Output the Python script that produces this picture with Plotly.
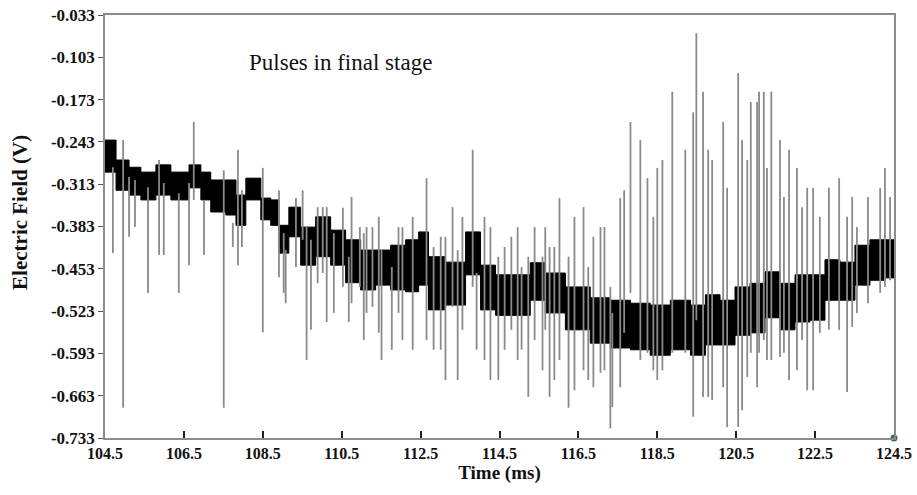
import plotly.graph_objects as go

# ---- data ----
# black noise band (step segments): segment boundaries (ms), upper and lower edge (V)
band_t = [104.50, 104.78, 105.11, 105.41, 105.79, 106.17, 106.63, 106.93, 107.18, 107.56,
          107.82, 108.07, 108.45, 108.70, 108.91, 109.16, 109.46, 109.84, 110.22, 110.60,
          110.98, 111.36, 111.74, 112.12, 112.45, 112.70, 113.13, 113.64, 114.02, 114.40,
          115.28, 115.66, 116.17, 116.80, 117.31, 117.82, 118.32, 118.83, 119.34, 119.72,
          120.09, 120.47, 120.85, 121.23, 121.61, 121.99, 122.37, 122.75, 123.13, 123.51,
          123.89, 124.27, 124.50]
band_hi = [-0.240, -0.273, -0.285, -0.293, -0.281, -0.293, -0.281, -0.293, -0.306, -0.306,
           -0.331, -0.303, -0.336, -0.339, -0.381, -0.351, -0.384, -0.367, -0.389, -0.405,
           -0.422, -0.422, -0.414, -0.405, -0.392, -0.433, -0.442, -0.392, -0.447, -0.463,
           -0.443, -0.460, -0.483, -0.501, -0.505, -0.510, -0.513, -0.505, -0.513, -0.496,
           -0.505, -0.483, -0.477, -0.458, -0.477, -0.463, -0.463, -0.438, -0.442, -0.414,
           -0.405, -0.405]
band_lo = [-0.293, -0.323, -0.331, -0.339, -0.331, -0.339, -0.319, -0.339, -0.359, -0.364,
           -0.381, -0.339, -0.372, -0.381, -0.427, -0.400, -0.447, -0.433, -0.447, -0.476,
           -0.488, -0.480, -0.488, -0.491, -0.480, -0.521, -0.513, -0.463, -0.521, -0.530,
           -0.505, -0.526, -0.554, -0.576, -0.584, -0.587, -0.596, -0.587, -0.596, -0.579,
           -0.579, -0.563, -0.559, -0.534, -0.554, -0.541, -0.538, -0.505, -0.505, -0.480,
           -0.472, -0.468]

# grey pulses: time (ms), top and bottom end of each stroke (V)
pulse_t = [104.70, 104.96, 105.11, 105.26, 105.59, 105.87, 105.99, 106.37, 106.63, 106.75,
           107.01, 107.51, 107.74, 107.87, 107.97, 108.50, 108.91, 109.03, 109.08, 109.34,
           109.51, 109.61, 109.72, 109.89, 110.02, 110.12, 110.30, 110.53, 110.68, 110.75,
           110.96, 111.06, 111.13, 111.28, 111.44, 111.51, 111.77, 111.94, 112.04, 112.30,
           112.65, 112.83, 113.01, 113.13, 113.31, 113.44, 113.56, 113.82, 113.92, 114.12,
           114.27, 114.47, 114.63, 114.80, 114.96, 115.06, 115.23, 115.39, 115.59, 115.66,
           115.77, 115.89, 116.02, 116.25, 116.40, 116.63, 116.75, 116.88, 117.06, 117.16,
           117.31, 117.36, 117.56, 117.66, 117.82, 118.07, 118.25, 118.40, 118.50, 118.63,
           118.88, 119.21, 119.41, 119.49, 119.66, 119.79, 119.89, 120.17, 120.27, 120.55,
           120.65, 120.78, 120.87, 121.03, 121.08, 121.20, 121.28, 121.39, 121.61, 121.71,
           121.84, 122.04, 122.17, 122.30, 122.45, 122.62, 122.85, 123.11, 123.31, 123.44,
           123.56, 123.84, 124.15, 124.27, 124.40]
pulse_top = [-0.285, -0.240, -0.301, -0.306, -0.318, -0.273, -0.311, -0.328, -0.311, -0.210,
             -0.339, -0.290, -0.377, -0.256, -0.323, -0.286, -0.323, -0.394, -0.422, -0.336,
             -0.323, -0.384, -0.405, -0.351, -0.351, -0.351, -0.394, -0.352, -0.433, -0.334,
             -0.384, -0.394, -0.384, -0.384, -0.367, -0.422, -0.450, -0.384, -0.384, -0.367,
             -0.303, -0.417, -0.400, -0.400, -0.351, -0.422, -0.367, -0.256, -0.460, -0.367,
             -0.384, -0.433, -0.417, -0.400, -0.384, -0.450, -0.433, -0.384, -0.433, -0.384,
             -0.417, -0.417, -0.336, -0.433, -0.367, -0.351, -0.450, -0.400, -0.384, -0.384,
             -0.483, -0.526, -0.336, -0.323, -0.210, -0.240, -0.303, -0.367, -0.286, -0.273,
             -0.160, -0.256, -0.194, -0.063, -0.160, -0.256, -0.273, -0.210, -0.319, -0.129,
             -0.240, -0.273, -0.177, -0.177, -0.160, -0.160, -0.286, -0.160, -0.240, -0.334,
             -0.256, -0.286, -0.351, -0.319, -0.319, -0.367, -0.319, -0.303, -0.367, -0.334,
             -0.384, -0.334, -0.319, -0.286, -0.334]
pulse_bot = [-0.427, -0.683, -0.400, -0.384, -0.493, -0.430, -0.430, -0.493, -0.447, -0.339,
             -0.430, -0.683, -0.417, -0.447, -0.417, -0.558, -0.467, -0.493, -0.510, -0.450,
             -0.405, -0.604, -0.554, -0.477, -0.460, -0.541, -0.526, -0.483, -0.541, -0.510,
             -0.483, -0.571, -0.526, -0.516, -0.559, -0.604, -0.587, -0.526, -0.571, -0.587,
             -0.571, -0.587, -0.587, -0.637, -0.516, -0.637, -0.554, -0.483, -0.587, -0.604,
             -0.637, -0.637, -0.587, -0.554, -0.604, -0.587, -0.665, -0.571, -0.621, -0.554,
             -0.665, -0.637, -0.604, -0.683, -0.654, -0.621, -0.637, -0.649, -0.625, -0.621,
             -0.717, -0.682, -0.649, -0.559, -0.493, -0.604, -0.592, -0.621, -0.637, -0.621,
             -0.592, -0.592, -0.698, -0.538, -0.665, -0.665, -0.670, -0.649, -0.715, -0.715,
             -0.687, -0.632, -0.592, -0.649, -0.592, -0.571, -0.604, -0.604, -0.599, -0.592,
             -0.637, -0.621, -0.571, -0.654, -0.654, -0.559, -0.554, -0.554, -0.657, -0.549,
             -0.526, -0.510, -0.493, -0.483, -0.472]

x_ticks = [104.5, 106.5, 108.5, 110.5, 112.5, 114.5, 116.5, 118.5, 120.5, 122.5, 124.5]
y_ticks = [-0.033, -0.103, -0.173, -0.243, -0.313, -0.383, -0.453, -0.523, -0.593, -0.663, -0.733]
end_marker_t = [124.5]
end_marker_v = [-0.733]

# ---- build figure ----
px_x, px_y = [], []
for t, hi, lo in zip(pulse_t, pulse_top, pulse_bot):
    px_x += [t, t, None]
    px_y += [hi, lo, None]

seg_start = band_t[:-1]
seg_end = band_t[1:]
seg_mid = [(a + b) / 2 for a, b in zip(seg_start, seg_end)]
seg_w = [b - a for a, b in zip(seg_start, seg_end)]
seg_h = [h - l for h, l in zip(band_hi, band_lo)]

SERIF = "Liberation Serif, Times New Roman, serif"

fig = go.Figure()
fig.add_trace(go.Scatter(x=px_x, y=px_y, mode="lines",
                         line=dict(color="#8a8a8a", width=1.8),
                         hoverinfo="skip", showlegend=False))
fig.add_trace(go.Bar(x=seg_mid, y=seg_h, base=band_lo, width=seg_w,
                     marker=dict(color="#000000", line=dict(width=1, color="#000000")),
                     hoverinfo="skip", showlegend=False))
fig.add_trace(go.Scatter(x=end_marker_t, y=end_marker_v, mode="markers",
                         marker=dict(color="#2f6e68", size=7),
                         cliponaxis=False, hoverinfo="skip", showlegend=False))

fig.add_annotation(x=108.1, y=-0.111, xref="x", yref="y", text="Pulses in final stage",
                   showarrow=False, xanchor="left", yanchor="middle",
                   font=dict(family=SERIF, size=23, color="#111111"))
fig.add_annotation(x=-0.108, y=0.534, xref="paper", yref="paper",
                   text="<b>Electric Field (V)</b>", textangle=-90, showarrow=False,
                   xanchor="center", yanchor="middle",
                   font=dict(family=SERIF, size=21, color="#111111"))

fig.update_layout(
    width=917, height=495,
    margin=dict(l=105, r=23, t=15, b=57, autoexpand=False),
    plot_bgcolor="white", paper_bgcolor="white",
    barmode="overlay",
    xaxis=dict(range=[104.5, 124.5], tickvals=x_ticks,
               ticktext=["<b>%g</b>" % v for v in x_ticks],
               ticks="inside", ticklen=7, tickwidth=1.5, tickcolor="#222222",
               showline=True, mirror=True, linecolor="#8c8c8c", linewidth=1.5,
               showgrid=False, zeroline=False, automargin=False,
               ticklabeloverflow="allow",
               tickfont=dict(family=SERIF, size=16, color="#111111"),
               title=dict(text="<b>Time (ms)</b>", standoff=4,
                          font=dict(family=SERIF, size=19, color="#111111"))),
    yaxis=dict(range=[-0.733, -0.033], tickvals=y_ticks,
               ticktext=["<b>%.3f</b>" % v for v in y_ticks],
               ticks="outside", ticklen=5, tickwidth=1, tickcolor="#555555",
               showline=True, mirror=True, linecolor="#8c8c8c", linewidth=1.5,
               showgrid=False, zeroline=False, automargin=False,
               tickfont=dict(family=SERIF, size=17, color="#111111")),
)

# remove the default page margin so the 917x495 figure fills the window exactly
fig.write_html("out.html",
               config={"displayModeBar": False},
               post_script="document.body.style.margin='0';document.body.style.overflow='hidden';")
